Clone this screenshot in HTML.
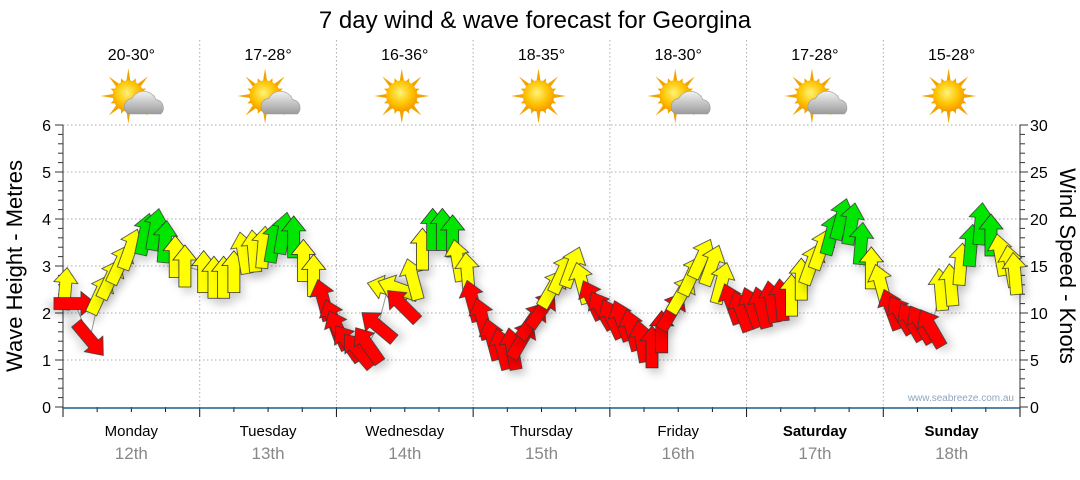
<!DOCTYPE html>
<html><head><meta charset="utf-8"><style>
body{margin:0;background:#fff;width:1080px;height:475px;overflow:hidden}
text{font-family:"Liberation Sans",sans-serif}
</style></head><body>
<svg id="chart" width="1080" height="475" viewBox="0 0 1080 475" xmlns="http://www.w3.org/2000/svg">
<defs>
<filter id="sh" x="-50%" y="-50%" width="200%" height="200%"><feDropShadow dx="4" dy="6" stdDeviation="4" flood-color="#000" flood-opacity="0.15"/></filter>
<radialGradient id="sun" cx="45%" cy="40%" r="60%"><stop offset="0" stop-color="#fff27a"/><stop offset="0.6" stop-color="#ffc400"/><stop offset="1" stop-color="#f39a00"/></radialGradient>
<linearGradient id="cloud" x1="0" y1="0" x2="0" y2="1"><stop offset="0" stop-color="#f2f2f2"/><stop offset="1" stop-color="#9a9a9a"/></linearGradient>
</defs>
<text x="535" y="28" font-size="24" text-anchor="middle" fill="#000">7 day wind &amp; wave forecast for Georgina</text>
<g id="grid"></g>
<g id="axes"></g>
<g id="icons"></g>
<g id="marks"></g>
<text transform="translate(22,266) rotate(-90)" font-size="22" text-anchor="middle">Wave Height - Metres</text>
<text transform="translate(1060,266) rotate(90)" font-size="22" text-anchor="middle">Wind Speed - Knots</text>
<text x="1014" y="401" font-size="10" fill="#8fa6c0" text-anchor="end">www.seabreeze.com.au</text>
</svg>
<script>
const days=["Monday","Tuesday","Wednesday","Thursday","Friday","Saturday","Sunday"];
const dates=["12th","13th","14th","15th","16th","17th","18th"];
const temps=["20-30°","17-28°","16-36°","18-35°","18-30°","17-28°","15-28°"];
const cloudy=[1,1,0,0,1,1,0];
const waveTicks=[0,1,2,3,4,5,6];
const windTicks=[0,5,10,15,20,25,30];
const hours=[0.4,2.1,4.7,6.5,8.3,10.0,11.8,14.4,16.2,17.9,19.7,21.4,
24.7,26.5,28.2,30.0,31.7,33.5,35.2,37.0,38.7,40.5,42.2,44.0,45.7,47.4,
48.3,50.0,51.8,53.5,55.3,57.0,58.8,59.6,61.4,63.1,64.9,66.6,68.4,69.3,71.0,
71.9,73.6,75.4,77.1,78.9,80.6,82.4,84.1,85.9,87.6,89.4,91.1,92.9,94.6,
96.4,98.1,99.9,101.6,103.4,105.1,106.9,108.6,110.4,112.1,113.9,115.6,117.4,
119.1,120.9,122.6,124.4,126.1,127.9,129.6,131.4,133.1,134.9,136.6,138.4,140.1,141.9,
143.6,145.4,147.1,148.9,150.6,152.4,154.1,155.9,157.6,159.4,161.1,162.9,164.6,166.4,167.1];
const speeds=[12.6,11.0,7.2,12.0,13.6,15.2,16.8,18.4,18.9,17.6,16.0,15.0,
14.4,13.8,13.8,14.4,16.4,16.6,17.0,17.6,18.5,18.1,15.6,14.0,11.4,9.3,
8.2,6.8,6.0,6.6,8.6,12.6,12.6,10.8,13.6,16.8,18.9,18.9,18.2,15.6,14.2,
11.3,9.4,7.2,6.2,6.2,7.2,9.2,10.4,12.6,14.2,14.9,13.2,11.4,10.3,
9.4,9.2,8.2,7.0,6.4,8.0,10.2,12.0,14.0,15.8,15.1,13.2,11.0,
10.2,10.6,10.6,11.2,11.4,11.9,13.6,15.2,16.8,18.4,20.0,19.5,17.4,14.8,13.0,10.4,
9.8,9.1,8.8,8.4,12.5,13.0,15.2,17.2,19.5,18.3,16.2,15.0,14.2];
const dirs=[5,90,140,25,25,25,20,12,10,5,0,0,
0,0,0,0,-10,-5,5,10,10,0,0,0,-15,-20,
-25,-35,-40,-35,-50,-75,-70,-45,-15,0,0,0,0,-10,-5,
-15,-15,-15,-15,-10,30,35,35,30,25,20,-15,-25,-30,
-25,-20,-15,-10,0,0,30,30,25,25,20,15,-20,
-20,-20,-15,-10,-5,0,0,20,20,15,15,10,5,0,-15,-20,
-30,-30,-30,-30,-5,-5,5,5,5,0,-10,-10,-5];

const X0=63,X1=1020,Y0=407,Y1=125;
const xH=h=>X0+h/168*(X1-X0);
const yW=w=>Y0-w/6*(Y0-Y1);
const yK=k=>Y0-k/30*(Y0-Y1);
const NS="http://www.w3.org/2000/svg";
function mk(tag,attrs,parent){const e=document.createElementNS(NS,tag);for(const k in attrs)e.setAttribute(k,attrs[k]);parent.appendChild(e);return e;}
const grid=document.getElementById('grid'),axes=document.getElementById('axes'),icons=document.getElementById('icons'),marks=document.getElementById('marks');

waveTicks.forEach(w=>{
  if(w>0){const g=mk('line',{x1:X0,x2:X1,y1:yW(w),y2:yW(w),stroke:'#aaa','stroke-dasharray':'1.5,2.5'},grid);
  
  }
  const t=mk('text',{x:X0-12,y:yW(w)+6,'font-size':16,'text-anchor':'end'},axes);t.textContent=w;
  
  
});
windTicks.forEach(k=>{
  const t=mk('text',{x:X1+10,y:yK(k)+6,'font-size':16},axes);t.textContent=k;
  
  
});
for(let i=0;i<=30;i++){const y=yK(i);const big=i%5==0;
  mk('line',{x1:X0-(big?8:5),x2:X0,y1:y,y2:y,stroke:'#333'},axes);
  mk('line',{x1:X1,x2:X1+(big?8:5),y1:y,y2:y,stroke:'#333'},axes);}
mk('line',{x1:X0,x2:X0,y1:Y1,y2:Y0,stroke:'#333'},axes);
mk('line',{x1:X1,x2:X1,y1:Y1,y2:Y0,stroke:'#333'},axes);
for(let h=0;h<=168;h+=6){const x=xH(h);const big=h%24==0;
  mk('line',{x1:x,x2:x,y1:Y0,y2:Y0+(big?10:5),stroke:'#111'},axes);
  if(big&&h>0&&h<168){const g=mk('line',{x1:x,x2:x,y1:40,y2:Y0,stroke:'#aaa','stroke-dasharray':'1.5,2.5'},grid);
  
  }}
mk('line',{x1:X0,x2:X1,y1:Y0+1,y2:Y0+1,stroke:'#1f5f8a','stroke-width':1.5},axes);

days.forEach((d,i)=>{
  const cx=xH(i*24+12);
  const t=mk('text',{x:cx,y:436,'font-size':15,'text-anchor':'middle','font-weight':i>=5?'bold':'normal'},axes);t.textContent=d;
  
  
  const t2=mk('text',{x:cx,y:459,'font-size':17,'text-anchor':'middle',fill:'#888'},axes);t2.textContent=dates[i];
  
  
  const t3=mk('text',{x:cx,y:60,'font-size':16,'text-anchor':'middle'},icons);t3.textContent=temps[i];
  
  
  const g=mk('g',{transform:`translate(${cx-3},${96}) scale(1.2)`},icons);
  
  
  for(let a=0;a<16;a++){const r=a%2?16:23;const an=a*Math.PI/8;
    mk('polygon',{points:`${Math.cos(an-0.15)*12},${Math.sin(an-0.15)*12} ${Math.cos(an)*r},${Math.sin(an)*r} ${Math.cos(an+0.15)*12},${Math.sin(an+0.15)*12}`,fill:'#f2a300'},g);}
  mk('circle',{cx:0,cy:0,r:13,fill:'url(#sun)'},g);
  if(cloudy[i]){mk('path',{d:'M0,15 a7,7 0 0 1 3,-13 a11,11 0 0 1 20,1 a7,7 0 0 1 4,12 z',fill:'url(#cloud)',stroke:'#999','stroke-width':0.5},g);}
});

let pts=hours.map((h,i)=>`${xH(h)},${yK(speeds[i])}`).join(' ');
const pl=mk('polyline',{points:pts,fill:'none',stroke:'#999','stroke-width':1},marks);


const arrowShape="0,-21 12,-6 6,-6 6,21 -6,21 -6,-6 -12,-6";
hours.forEach((h,i)=>{
  const k=speeds[i];
  const col=k<11.5?'#ff0000':(k<17.2?'#ffff00':'#00e600');
  const a=mk('polygon',{points:arrowShape,fill:col,stroke:'#333','stroke-width':0.8,filter:'url(#sh)',
    transform:`translate(${xH(h)},${yK(k)}) rotate(${dirs[i]})`},marks);
  
  
});
</script>
</body></html>
